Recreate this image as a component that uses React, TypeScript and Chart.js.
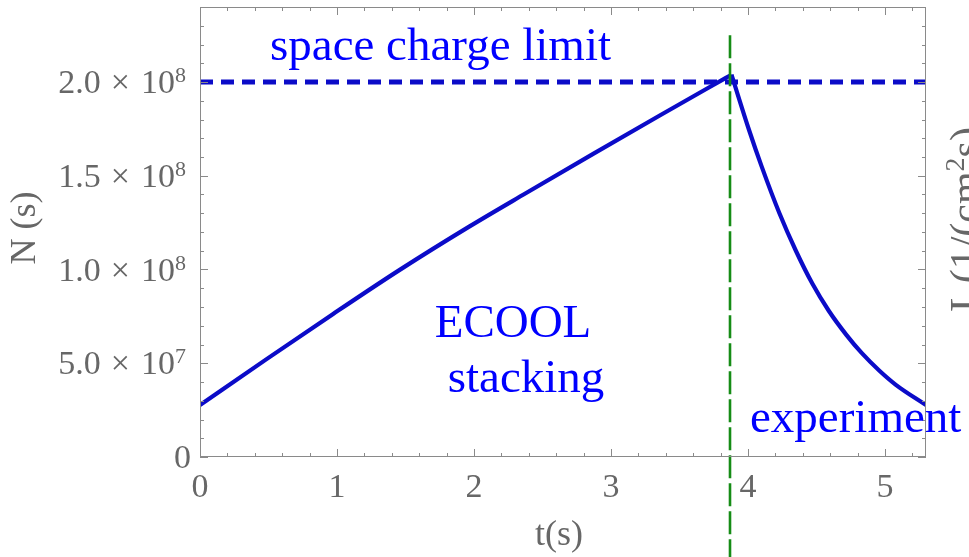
import React, { useEffect, useRef } from "react";
import { Chart, registerables } from "chart.js";

Chart.register(...registerables);

// Stored ion number N during electron-cooling stacking (rising part)
const stackTime = [0, 0.486, 0.972, 1.458, 1.968, 2.381, 2.867, 3.353, 3.839, 3.88];
const stackN = [2.77e7, 5.22e7, 7.63e7, 9.98e7, 12.3e7, 14.08e7, 16.15e7, 18.2e7, 20.22e7, 20.39e7];

// Ion number during the experiment (decaying part)
const expTime = [3.88, 4.01, 4.1, 4.23, 4.35, 4.47, 4.59, 4.72, 4.83, 4.96, 5.08, 5.3];
const expN = [2.039e8, 1.74e8, 1.55e8, 1.3e8, 1.1e8, 0.925e8, 0.78e8, 0.65e8, 0.555e8, 0.46e8, 0.385e8, 0.277e8];

// Space charge limit and the end of stacking
const spaceChargeLimit = 2.0e8;
const stackEndTime = 3.87;
const stackEndMarkerTop = 2.25e8;

// Axis ranges and tick labels
const tMin = 0;
const tMax = 5.3;
const nMin = 0;
const nMax = 2.4e8;
const xTickValues = [0, 1, 2, 3, 4, 5];
const xTickLabels = ["0", "1", "2", "3", "4", "5"];
const yTickValues = [0, 5e7, 1e8, 1.5e8, 2e8];
const yTickMantissa = ["0", "5.0", "1.0", "1.5", "2.0"];
const yTickExponent = ["", "7", "8", "8", "8"];
const xMinorStep = 0.2;
const yMinorStep = 1e7;
const yMajorStep = 5e7;

const SERIF = '"Liberation Serif", "Times New Roman", Times, serif';
const GRAY = "#676767";
const FRAME = "#8a8a8a";
const TEXT_BLUE = "#0000ff";
const LINE_BLUE = "#0b0bc8";
const GREEN = "#168c16";

const framePlugin = {
  id: "mathFrame",
  afterDatasetsDraw(chart: any) {
    const { ctx, scales } = chart;
    const xs = scales.x;
    const ys = scales.y;

    // vertical dashed marker at the end of stacking
    ctx.save();
    ctx.strokeStyle = GREEN;
    ctx.lineWidth = 2.6;
    ctx.setLineDash([23, 5]);
    const gx = Math.round(xs.getPixelForValue(stackEndTime));
    ctx.beginPath();
    ctx.moveTo(gx, ys.getPixelForValue(stackEndMarkerTop));
    ctx.lineTo(gx, chart.height);
    ctx.stroke();
    ctx.restore();
  },
  afterDraw(chart: any) {
    const { ctx, chartArea, scales } = chart;
    const xs = scales.x;
    const ys = scales.y;
    const { left, right, top, bottom } = chartArea;

    ctx.save();
    // frame
    ctx.strokeStyle = FRAME;
    ctx.lineWidth = 1;
    ctx.strokeRect(left + 0.5, top + 0.5, right - left - 1, bottom - top - 1);

    // ticks on all four sides, pointing inward
    ctx.beginPath();
    for (let i = 0; tMin + i * xMinorStep <= tMax + 1e-9; i++) {
      const v = tMin + i * xMinorStep;
      const major = Math.abs(v - Math.round(v)) < 1e-6;
      const len = major ? 8 : 4;
      const px = Math.round(xs.getPixelForValue(v)) + 0.5;
      ctx.moveTo(px, bottom);
      ctx.lineTo(px, bottom - len);
      ctx.moveTo(px, top);
      ctx.lineTo(px, top + len);
    }
    for (let i = 0; nMin + i * yMinorStep <= nMax + 1; i++) {
      const v = nMin + i * yMinorStep;
      const major = Math.abs(v / yMajorStep - Math.round(v / yMajorStep)) < 1e-6;
      const len = major ? 8 : 4;
      const py = Math.round(ys.getPixelForValue(v)) + 0.5;
      ctx.moveTo(left, py);
      ctx.lineTo(left + len, py);
      ctx.moveTo(right, py);
      ctx.lineTo(right - len, py);
    }
    ctx.stroke();

    // x tick labels
    ctx.fillStyle = GRAY;
    ctx.font = `34px ${SERIF}`;
    ctx.textAlign = "center";
    ctx.textBaseline = "alphabetic";
    xTickValues.forEach((v, i) => {
      ctx.fillText(xTickLabels[i], xs.getPixelForValue(v), bottom + 40);
    });

    // y tick labels, written as mantissa × 10^exponent
    const rightEdge = left - 14;
    yTickValues.forEach((v, i) => {
      const py = ys.getPixelForValue(v);
      const base = py + 11;
      ctx.textAlign = "right";
      if (!yTickExponent[i]) {
        ctx.font = `34px ${SERIF}`;
        ctx.fillText(yTickMantissa[i], left - 9, base);
        return;
      }
      ctx.font = `22px ${SERIF}`;
      ctx.fillText(yTickExponent[i], rightEdge, py);
      const supW = ctx.measureText(yTickExponent[i]).width;
      ctx.font = `34px ${SERIF}`;
      let x = rightEdge - supW;
      ctx.fillText("10", x, base);
      x -= ctx.measureText("10").width + 11;
      ctx.fillText("\u00d7", x, base);
      x -= ctx.measureText("\u00d7").width + 10;
      ctx.fillText(yTickMantissa[i], x, base);
    });

    // axis titles
    ctx.font = `36px ${SERIF}`;
    ctx.textAlign = "center";
    ctx.fillText("t(s)", 559, 545);

    ctx.save();
    ctx.translate(26, 228);
    ctx.rotate(-Math.PI / 2);
    ctx.textBaseline = "middle";
    ctx.fillText("N (s)", 0, 0);
    ctx.restore();

    // right-hand axis title (luminosity), running off the edge
    ctx.save();
    ctx.translate(979, 312);
    ctx.rotate(-Math.PI / 2);
    ctx.textAlign = "left";
    ctx.textBaseline = "alphabetic";
    ctx.font = `42px ${SERIF}`;
    let lx = 0;
    ctx.fillText("L", lx, 0);
    lx += ctx.measureText("L").width + 3;
    const part1 = "(1/(cm";
    ctx.fillText(part1, lx, 0);
    lx += ctx.measureText(part1).width;
    ctx.font = `28px ${SERIF}`;
    ctx.fillText("2", lx, -15);
    lx += ctx.measureText("2").width;
    ctx.font = `42px ${SERIF}`;
    ctx.fillText("s)", lx, 0);
    ctx.restore();

    // annotations
    ctx.fillStyle = TEXT_BLUE;
    ctx.font = `47px ${SERIF}`;
    ctx.textAlign = "left";
    ctx.fillText("space charge limit", 270, 60);
    ctx.textAlign = "center";
    ctx.fillText("ECOOL", 513, 337);
    ctx.fillText("stacking", 526, 392);
    ctx.textAlign = "left";
    ctx.fillText("experiment", 750, 432);
    ctx.restore();
  },
};

export default function App() {
  const canvasRef = useRef<HTMLCanvasElement | null>(null);

  useEffect(() => {
    document.body.style.margin = "0";
    const canvas = canvasRef.current;
    if (!canvas) return;
    const toPoints = (xs: number[], ys: number[]) => xs.map((x, i) => ({ x, y: ys[i] }));

    const chart = new Chart(canvas, {
      type: "line",
      data: {
        datasets: [
          {
            data: toPoints(stackTime, stackN),
            borderColor: LINE_BLUE,
            borderWidth: 4.2,
            cubicInterpolationMode: "monotone",
            pointRadius: 0,
            fill: false,
            order: 0,
          },
          {
            data: toPoints(expTime, expN),
            borderColor: LINE_BLUE,
            borderWidth: 4.2,
            cubicInterpolationMode: "monotone",
            pointRadius: 0,
            fill: false,
            order: 0,
          },
          {
            data: toPoints([tMin, tMax], [spaceChargeLimit, spaceChargeLimit]),
            borderColor: LINE_BLUE,
            borderWidth: 5,
            borderDash: [13, 8],
            pointRadius: 0,
            fill: false,
            order: 1,
          },
        ],
      },
      options: {
        animation: false,
        responsive: false,
        events: [],
        layout: { padding: { left: 200, top: 7, right: 43, bottom: 100 } },
        plugins: {
          legend: { display: false },
          tooltip: { enabled: false },
        },
        scales: {
          x: { type: "linear", min: tMin, max: tMax, display: false },
          y: { type: "linear", min: nMin, max: nMax, display: false },
        },
      },
      plugins: [framePlugin],
    } as any);

    return () => chart.destroy();
  }, []);

  return (
    <div style={{ position: "absolute", left: 0, top: 0, width: 969, height: 557, background: "#fff" }}>
      <canvas ref={canvasRef} width={969} height={557} />
    </div>
  );
}
